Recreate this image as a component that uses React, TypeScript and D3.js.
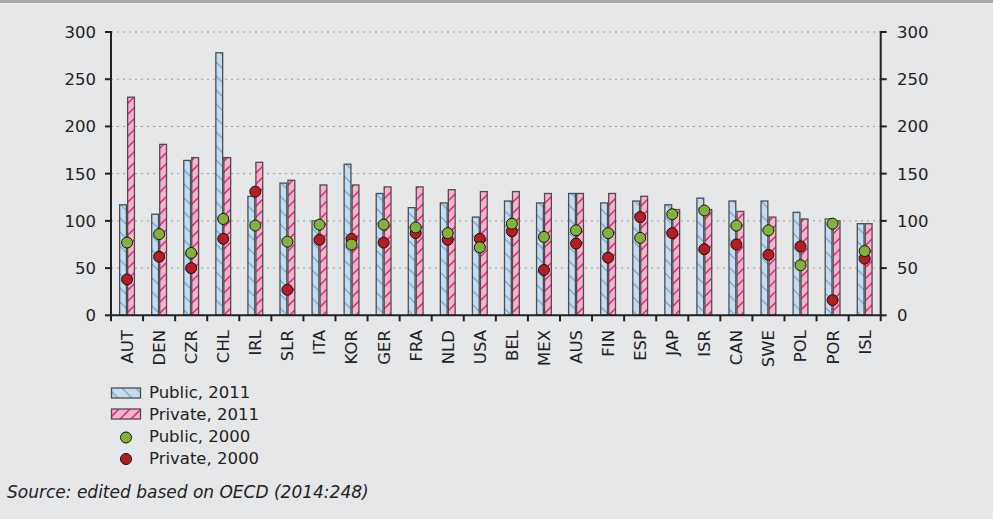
import React from "react";
import * as d3 from "d3";

const categories = ["AUT","DEN","CZR","CHL","IRL","SLR","ITA","KOR","GER","FRA","NLD","USA","BEL","MEX","AUS","FIN","ESP","JAP","ISR","CAN","SWE","POL","POR","ISL"];
const public2011 = [117,107,164,278,126,140,100,160,129,114,119,104,121,119,129,119,121,117,124,121,121,109,102,97];
const private2011 = [231,181,167,167,162,143,138,138,136,136,133,131,131,129,129,129,126,112,112,110,104,102,100,97];
const public2000 = [77,86,66,102,95,78,96,75,96,93,87,72,97,83,90,87,82,107,111,95,90,53,97,68];
const private2000 = [38,62,50,81,131,27,80,81,77,87,80,81,89,48,76,61,104,87,70,75,64,73,16,60];
const yTicks = [0,50,100,150,200,250,300];
const legendItems = ["Public, 2011","Private, 2011","Public, 2000","Private, 2000"];
const sourceText = "Source: edited based on OECD (2014:248)";

const W = 993, H = 519;
const FONT = "'DejaVu Sans', sans-serif";
const FS = 16.5;

export default function App() {
  const x = d3.scaleBand<string>().domain(categories).range([111, 880.7]).padding(0);
  const inner = d3.scaleBand<string>().domain(["pub","priv"]).range([0, 16]).padding(0);
  const y = d3.scaleLinear().domain([0, 300]).range([315.3, 32]);
  const cx = (c: string) => (x(c) as number) + x.bandwidth() / 2;
  const left = 111, right = 880.7;
  const boundaries = d3.range(categories.length + 1).map(i => left + i * x.bandwidth());
  const R = 5.5;

  return (
    <svg width={W} height={H} style={{ position: "absolute", left: 0, top: 0, background: "#e6e7e9" }}>
      <defs>
        <pattern id="hatchBlue" patternUnits="userSpaceOnUse" width={14} height={14}>
          <rect width={14} height={14} fill="#c5dcf0" />
          <path d="M-2,-2 L16,16 M-2,12 L2,16 M12,-2 L16,2" stroke="#6fb0df" strokeWidth={1.4} />
        </pattern>
        <pattern id="hatchPink" patternUnits="userSpaceOnUse" width={11} height={11}>
          <rect width={11} height={11} fill="#f7b3cb" />
          <path d="M-2,13 L13,-2 M-2,2 L2,-2 M9,13 L13,9" stroke="#e4208a" strokeWidth={1.5} />
        </pattern>
      </defs>
      <rect x={0} y={0} width={W} height={3} fill="#a8a8a8" />

      {yTicks.filter(t => t > 0).map(t => (
        <line key={"g" + t} x1={left} x2={right} y1={y(t)} y2={y(t)} stroke="#9a9a9a" strokeWidth={1} strokeDasharray="2,4" />
      ))}

      {categories.map((c, i) => {
        const x0 = cx(c) - 8;
        return (
          <g key={"b" + c}>
            <rect x={x0 + (inner("pub") as number) + 0.6} y={y(public2011[i])} width={inner.bandwidth() - 1.2} height={y(0) - y(public2011[i])} fill="url(#hatchBlue)" stroke="#4d4d4d" strokeWidth={1.3} />
            <rect x={x0 + (inner("priv") as number) + 0.6} y={y(private2011[i])} width={inner.bandwidth() - 1.2} height={y(0) - y(private2011[i])} fill="url(#hatchPink)" stroke="#4d4d4d" strokeWidth={1.3} />
          </g>
        );
      })}

      {categories.map((c, i) => (
        <circle key={"r" + c} cx={cx(c)} cy={y(private2000[i])} r={R} fill="#b71c22" stroke="#111" strokeWidth={1} />
      ))}
      {categories.map((c, i) => (
        <circle key={"g" + c} cx={cx(c)} cy={y(public2000[i])} r={R} fill="#82b23a" stroke="#111" strokeWidth={1} />
      ))}

      <line x1={left} x2={right} y1={y(0)} y2={y(0)} stroke="#222" strokeWidth={2} />
      <line x1={left} x2={left} y1={y(300) - 1} y2={y(0) + 1} stroke="#222" strokeWidth={2} />
      <line x1={right} x2={right} y1={y(300) - 1} y2={y(0) + 1} stroke="#222" strokeWidth={2} />
      {yTicks.map(t => (
        <g key={"t" + t}>
          <line x1={left - 6} x2={left} y1={y(t)} y2={y(t)} stroke="#222" strokeWidth={2} />
          <line x1={right} x2={right + 6} y1={y(t)} y2={y(t)} stroke="#222" strokeWidth={2} />
          <text x={96} y={y(t)} dy="0.36em" textAnchor="end" fontFamily={FONT} fontSize={FS} fill="#222">{t}</text>
          <text x={897} y={y(t)} dy="0.36em" textAnchor="start" fontFamily={FONT} fontSize={FS} fill="#222">{t}</text>
        </g>
      ))}
      {boundaries.map((b, i) => (
        <line key={"xt" + i} x1={b} x2={b} y1={y(0)} y2={y(0) + 6} stroke="#222" strokeWidth={2} />
      ))}
      {categories.map(c => (
        <text key={"xl" + c} transform={`translate(${cx(c)},330) rotate(-90)`} dy="0.36em" textAnchor="end" fontFamily={FONT} fontSize={FS} fill="#222">{c}</text>
      ))}

      <g fontFamily={FONT} fontSize={FS} fill="#222">
        <rect x={111.5} y={388} width={29} height={10} fill="url(#hatchBlue)" stroke="#4d4d4d" strokeWidth={1.3} />
        <text x={149} y={397.5}>{legendItems[0]}</text>
        <rect x={111.5} y={409} width={29} height={10} fill="url(#hatchPink)" stroke="#4d4d4d" strokeWidth={1.3} />
        <text x={149} y={419.5}>{legendItems[1]}</text>
        <circle cx={126} cy={437.5} r={R} fill="#82b23a" stroke="#111" strokeWidth={1} />
        <text x={149} y={442}>{legendItems[2]}</text>
        <circle cx={126} cy={459} r={R} fill="#b71c22" stroke="#111" strokeWidth={1} />
        <text x={149} y={464}>{legendItems[3]}</text>
      </g>
      <text x={7} y={498} fontFamily={FONT} fontSize={17} fontStyle="italic" fill="#222">{sourceText}</text>
    </svg>
  );
}
